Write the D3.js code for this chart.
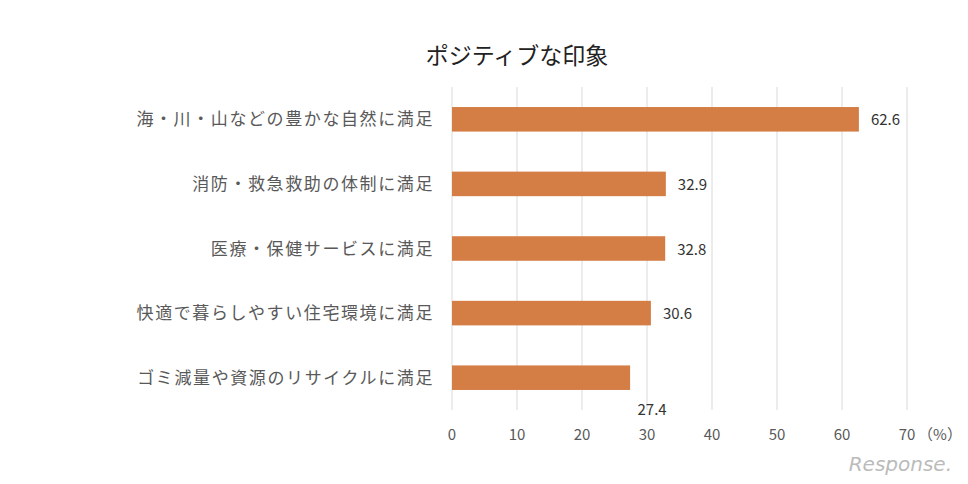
<!DOCTYPE html>
<html><head><meta charset="utf-8">
<script src="https://cdn.jsdelivr.net/npm/d3@7"></script>
<style>body{margin:0;background:#fff}</style></head>
<body><svg id="c" width="968" height="484"></svg>
<script>
const categories = ["海・川・山などの豊かな自然に満足","消防・救急救助の体制に満足","医療・保健サービスに満足","快適で暮らしやすい住宅環境に満足","ゴミ減量や資源のリサイクルに満足"];
const values = [62.6, 32.9, 32.8, 30.6, 27.4];
const ticks = [0,10,20,30,40,50,60,70];
const font = "'Noto Sans CJK JP', 'Noto Sans', sans-serif";
const svg = d3.select("#c");
const x = d3.scaleLinear().domain([0,70]).range([452,907]);
const y = d3.scaleBand().domain(categories).range([87,410]).paddingInner(0.62).paddingOuter(0.31);
svg.append("text").attr("x",517).attr("y",64).attr("text-anchor","middle").attr("font-family",font).attr("font-size",23).attr("fill","#222").text("ポジティブな印象");
svg.selectAll("line.g").data(ticks).join("line").attr("x1",d=>x(d)).attr("x2",d=>x(d)).attr("y1",87).attr("y2",410).attr("stroke","#d9d9d9").attr("stroke-width",1);
svg.selectAll("text.t").data(ticks).join("text").attr("x",d=>x(d)).attr("y",440).attr("text-anchor","middle").attr("font-family",font).attr("font-size",15).attr("fill","#595959").text(d=>d);
svg.append("text").attr("x",940).attr("y",440).attr("text-anchor","middle").attr("font-family",font).attr("font-size",15).attr("fill","#595959").text("（%）");
svg.selectAll("rect").data(values).join("rect").attr("x",x(0)).attr("y",(d,i)=>y(categories[i])).attr("width",d=>x(d)-x(0)).attr("height",y.bandwidth()).attr("fill","#D47E45");
svg.selectAll("text.c").data(categories).join("text").attr("x",434).attr("y",d=>y(d)+y.bandwidth()/2+6).attr("text-anchor","end").attr("font-family",font).attr("font-size",17).attr("letter-spacing",1.6).attr("fill","#595959").text(d=>d);
svg.selectAll("text.v").data(values).join("text").attr("x",(d,i)=>i===4?x(d)+22:x(d)+12).attr("y",(d,i)=>i===4?415:y(categories[i])+y.bandwidth()/2+6).attr("text-anchor",(d,i)=>i===4?"middle":"start").attr("font-family",font).attr("font-size",15).attr("fill","#333").text(d=>d.toFixed(1));
svg.append("text").attr("x",952).attr("y",471).attr("text-anchor","end").attr("font-family","DejaVu Sans, sans-serif").attr("font-style","italic").attr("font-size",20).attr("fill","#bbb").text("Response.");
</script></body></html>
